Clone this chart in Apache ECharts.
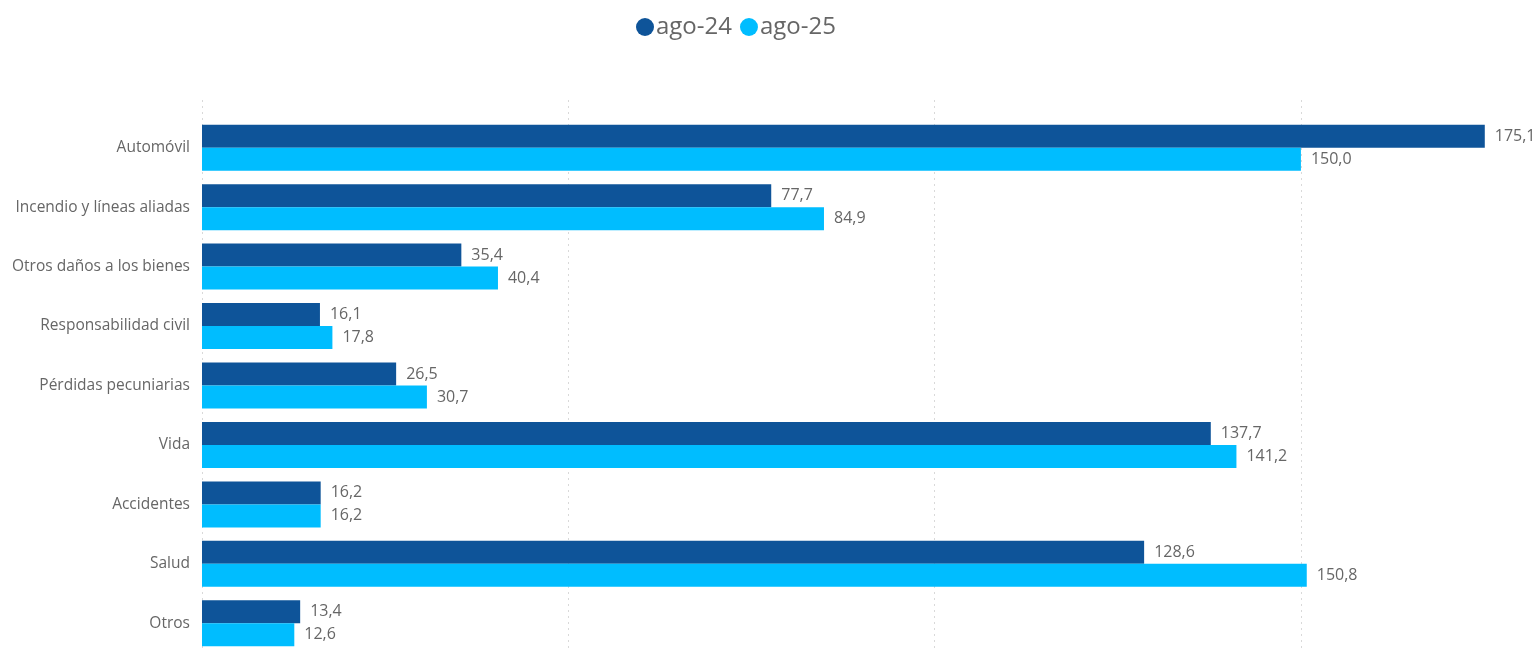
<!DOCTYPE html>
<html><head><meta charset="utf-8">
<script src="https://cdn.jsdelivr.net/npm/echarts@6/dist/echarts.min.js"></script>
<style>html,body{margin:0;padding:0;background:#fff}#c{width:1539px;height:656px}</style>
</head><body><div id="c"></div>
<script>
const categories = ["Automóvil","Incendio y líneas aliadas","Otros daños a los bienes","Responsabilidad civil","Pérdidas pecuniarias","Vida","Accidentes","Salud","Otros"];
const ago24 = [175.1,77.7,35.4,16.1,26.5,137.7,16.2,128.6,13.4];
const ago25 = [150.0,84.9,40.4,17.8,30.7,141.2,16.2,150.8,12.6];
const seriesNames = ["ago-24","ago-25"];
const FONT = "'Open Sans', 'Noto Sans', sans-serif";
const fmt = p => p.value.toFixed(1).replace('.', ',');
const chart = echarts.init(document.getElementById('c'), null, {renderer:'canvas'});
const split = {show:true, lineStyle:{color:'#d9d9d9', type:[2,4], width:1}};
const XMAX = 182.5;
chart.setOption({
  animation:false,
  textStyle:{fontFamily:FONT},
  legend:{top:15, left:636, itemGap:8, itemWidth:18, itemHeight:18, icon:'circle',
    textStyle:{fontSize:24, color:'#666', fontFamily:FONT, padding:[0,0,0,-3]}, padding:0,
    data:seriesNames},
  grid:[
    {left:202, top:118, height:535, right:0, containLabel:false},
    {left:202, top:100, bottom:4, right:0, containLabel:false}
  ],
  xAxis:[
    {type:'value', gridIndex:0, min:0, max:XMAX, interval:50, splitLine:{show:false}, axisLabel:{show:false}, axisLine:{show:false}, axisTick:{show:false}},
    {type:'value', gridIndex:1, min:0, max:XMAX, interval:50, splitLine:split, axisLabel:{show:false}, axisLine:{show:false}, axisTick:{show:false}}
  ],
  yAxis:[
    {type:'category', gridIndex:0, data:categories, inverse:true, axisLine:{show:false}, axisTick:{show:false},
      axisLabel:{color:'#666', fontSize:15.5, margin:12, fontFamily:FONT}},
    {type:'value', gridIndex:1, min:0, max:1, show:false}
  ],
  series:[
    {name:seriesNames[0], type:'bar', xAxisIndex:0, yAxisIndex:0, data:ago24, barGap:'0%', barCategoryGap:'22.6%',
      itemStyle:{color:'#0E5499'},
      label:{show:true, position:'right', distance:10, color:'#666', fontSize:16, fontFamily:FONT, formatter:fmt}},
    {name:seriesNames[1], type:'bar', xAxisIndex:0, yAxisIndex:0, data:ago25, barGap:'0%', barCategoryGap:'22.6%',
      itemStyle:{color:'#00BDFF'},
      label:{show:true, position:'right', distance:10, color:'#666', fontSize:16, fontFamily:FONT, formatter:fmt}}
  ]
});
</script></body></html>
